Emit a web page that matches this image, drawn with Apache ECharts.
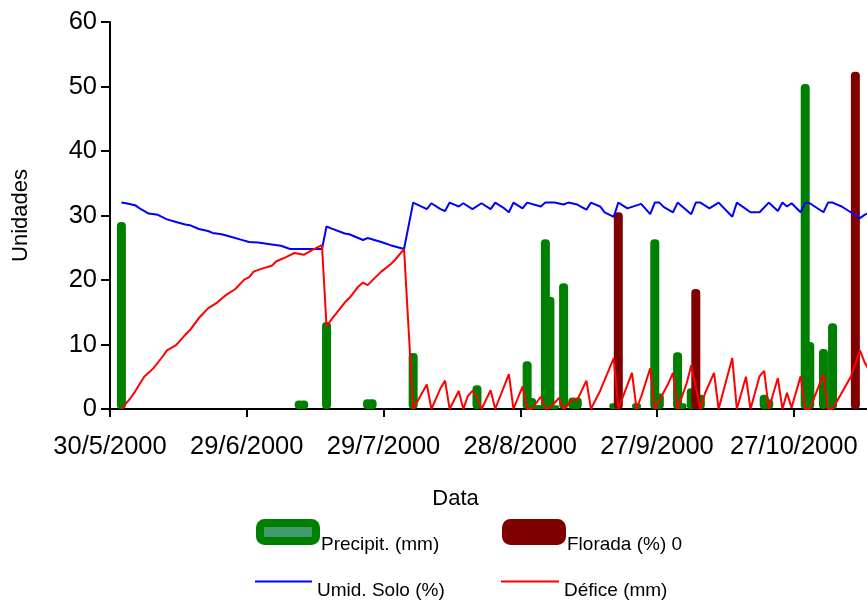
<!DOCTYPE html>
<html>
<head>
<meta charset="utf-8">
<script src="https://cdn.jsdelivr.net/npm/echarts@6/dist/echarts.min.js"></script>
<style>
  html, body { margin: 0; padding: 0; background: #ffffff; }
  #chart { width: 867px; height: 601px; }
</style>
</head>
<body>
<div id="chart"></div>
<script>
// Precipitação diária (mm)
const precipDates = [
  '2000-06-01', '2000-07-10', '2000-07-11', '2000-07-16', '2000-07-25', '2000-07-26',
  '2000-08-04', '2000-08-18', '2000-08-29', '2000-08-30', '2000-08-31', '2000-09-01',
  '2000-09-02', '2000-09-03', '2000-09-04', '2000-09-06', '2000-09-08', '2000-09-09',
  '2000-09-17', '2000-09-22', '2000-09-26', '2000-09-27', '2000-10-01', '2000-10-02',
  '2000-10-04', '2000-10-06', '2000-10-20', '2000-10-21', '2000-10-29', '2000-10-30',
  '2000-11-02', '2000-11-04'
];
const precipValues = [
  29.0, 1.3, 1.3, 13.5, 1.5, 1.5,
  8.7, 3.7, 7.4, 1.7, 0.6, 0.6,
  26.3, 17.4, 0.6, 19.5, 1.8, 1.8,
  0.9, 0.9, 26.3, 2.4, 8.8, 0.9,
  3.2, 2.2, 2.2, 1.5, 50.4, 10.4,
  9.3, 13.3
];

// Florada (%)
const floradaDates = ['2000-09-18', '2000-10-05', '2000-11-09'];
const floradaValues = [30.5, 18.6, 52.3];

// Umidade do solo (%)
const umidDates = [
  '2000-06-01', '2000-06-02', '2000-06-04', '2000-06-05', '2000-06-07', '2000-06-09',
  '2000-06-11', '2000-06-13', '2000-06-15', '2000-06-16', '2000-06-18', '2000-06-20',
  '2000-06-21', '2000-06-23', '2000-06-25', '2000-06-27', '2000-06-29', '2000-07-01',
  '2000-07-04', '2000-07-06', '2000-07-08', '2000-07-15', '2000-07-16', '2000-07-17',
  '2000-07-20', '2000-07-21', '2000-07-24', '2000-07-25', '2000-07-28', '2000-07-30',
  '2000-08-02', '2000-08-04', '2000-08-07', '2000-08-08', '2000-08-10', '2000-08-11',
  '2000-08-12', '2000-08-14', '2000-08-15', '2000-08-17', '2000-08-19', '2000-08-21',
  '2000-08-22', '2000-08-24', '2000-08-25', '2000-08-26', '2000-08-28', '2000-08-29',
  '2000-09-01', '2000-09-02', '2000-09-04', '2000-09-06', '2000-09-07', '2000-09-09',
  '2000-09-11', '2000-09-12', '2000-09-14', '2000-09-15', '2000-09-17', '2000-09-18',
  '2000-09-20', '2000-09-23', '2000-09-25', '2000-09-26', '2000-09-27', '2000-09-28',
  '2000-09-30', '2000-10-01', '2000-10-04', '2000-10-05', '2000-10-06', '2000-10-08',
  '2000-10-10', '2000-10-13', '2000-10-14', '2000-10-17', '2000-10-19', '2000-10-21',
  '2000-10-23', '2000-10-24', '2000-10-25', '2000-10-26', '2000-10-28', '2000-10-29',
  '2000-10-30', '2000-11-02', '2000-11-03', '2000-11-04', '2000-11-06', '2000-11-08',
  '2000-11-10', '2000-11-11', '2000-11-12'
];
const umidValues = [
  32.0, 31.9, 31.6, 31.1, 30.3, 30.1,
  29.4, 29.0, 28.6, 28.5, 27.9, 27.6,
  27.3, 27.1, 26.7, 26.3, 25.9, 25.8,
  25.5, 25.3, 24.8, 24.8, 28.3, 28.0,
  27.2, 27.1, 26.2, 26.5, 25.9, 25.4,
  24.8, 32.0, 31.0, 31.9, 31.0, 30.7,
  32.0, 31.4, 31.9, 31.0, 31.9, 31.0,
  32.0, 31.1, 30.5, 32.0, 31.1, 32.0,
  31.4, 32.0, 32.0, 31.7, 32.0, 31.7,
  30.9, 32.0, 31.4, 30.5, 29.8, 32.0,
  31.1, 31.8, 30.2, 32.0, 32.0, 31.3,
  30.5, 32.0, 30.2, 32.0, 32.0, 31.1,
  32.0, 29.8, 32.0, 30.5, 30.5, 32.0,
  30.7, 32.0, 31.4, 31.9, 30.5, 32.0,
  31.9, 30.5, 32.0, 32.0, 31.4, 30.5,
  29.6, 30.1, 30.4
];

// Déficit hídrico (mm)
const deficeDates = [
  '2000-06-01', '2000-06-03', '2000-06-04', '2000-06-06', '2000-06-08', '2000-06-10',
  '2000-06-11', '2000-06-13', '2000-06-15', '2000-06-16', '2000-06-18', '2000-06-20',
  '2000-06-22', '2000-06-24', '2000-06-26', '2000-06-28', '2000-06-29', '2000-06-30',
  '2000-07-02', '2000-07-04', '2000-07-05', '2000-07-07', '2000-07-09', '2000-07-11',
  '2000-07-13', '2000-07-15', '2000-07-16', '2000-07-17', '2000-07-20', '2000-07-21',
  '2000-07-23', '2000-07-24', '2000-07-25', '2000-07-28', '2000-07-30', '2000-07-31',
  '2000-08-02', '2000-08-04', '2000-08-07', '2000-08-08', '2000-08-10', '2000-08-11',
  '2000-08-12', '2000-08-14', '2000-08-15', '2000-08-16', '2000-08-17', '2000-08-18',
  '2000-08-19', '2000-08-21', '2000-08-22', '2000-08-25', '2000-08-26', '2000-08-28',
  '2000-08-29', '2000-08-30', '2000-09-01', '2000-09-02', '2000-09-03', '2000-09-05',
  '2000-09-06', '2000-09-08', '2000-09-09', '2000-09-11', '2000-09-12', '2000-09-14',
  '2000-09-17', '2000-09-18', '2000-09-21', '2000-09-22', '2000-09-23', '2000-09-25',
  '2000-09-26', '2000-09-29', '2000-09-30', '2000-10-01', '2000-10-03', '2000-10-04',
  '2000-10-06', '2000-10-07', '2000-10-09', '2000-10-10', '2000-10-13', '2000-10-14',
  '2000-10-16', '2000-10-17', '2000-10-19', '2000-10-20', '2000-10-21', '2000-10-23',
  '2000-10-24', '2000-10-25', '2000-10-26', '2000-10-28', '2000-10-29', '2000-10-30',
  '2000-11-02', '2000-11-03', '2000-11-04', '2000-11-08', '2000-11-10', '2000-11-11',
  '2000-11-12'
];
const deficeValues = [
  0, 1.7, 2.7, 5.0, 6.3, 8.1,
  9.1, 9.9, 11.5, 12.2, 14.1, 15.6,
  16.5, 17.7, 18.6, 20.1, 20.4, 21.3,
  21.8, 22.2, 22.9, 23.5, 24.2, 23.9,
  24.7, 25.4, 12.8, 13.8, 16.5, 17.2,
  19.0, 19.6, 19.2, 21.3, 22.4, 23.1,
  24.8, 0, 3.8, 0, 3.2, 4.4,
  0, 2.8, 0, 2.0, 2.8, 1.9,
  0, 2.9, 0, 5.4, 0, 3.5,
  0, 0, 1.9, 0, 0.2, 1.7,
  0, 1.5, 1.4, 4.4, 0, 2.8,
  7.9, 0, 5.6, 0, 1.9, 6.3,
  0, 4.0, 5.6, 0, 4.0, 6.8,
  0, 2.4, 5.6, 0, 7.9, 0,
  5.0, 0, 5.1, 5.9, 0, 4.8,
  0, 2.5, 0.2, 5.1, 0, 0,
  5.4, 0, 0, 5.0, 9.1, 7.3,
  6.0
];

// Axis ticks: every 30 days from 30/5/2000
const axisStart = '2000-05-30';
const axisDays = 170;
const tickStep = 30;
const yTicks = { min: 0, max: 60, step: 10 };

const DAY_MS = 86400000;
const [sy, sm, sd] = axisStart.split('-').map(Number);
const BASE = Date.UTC(sy, sm - 1, sd);

// day number since the axis origin, plotted at midday
function toDay(s) {
  const [y, m, d] = s.split('-').map(Number);
  return (Date.UTC(y, m - 1, d) - BASE) / DAY_MS + 0.5;
}
function pairs(dates, values) {
  return dates.map((s, i) => [toDay(s), values[i]]);
}
function dayLabel(v) {
  const t = new Date(BASE + v * DAY_MS);
  return t.getUTCDate() + '/' + (t.getUTCMonth() + 1) + '/' + t.getUTCFullYear();
}

const FONT = 'Liberation Sans, Arial, Helvetica, sans-serif';
const GREEN = '#008000';
const MAROON = '#800000';
const BLUE = '#0000ff';
const RED = '#ff0000';

const barStyle = (c) => ({ color: c, borderRadius: 4 });

// legend text sits a little below its key: an empty first line pushes it down
function legendEntry(opts, lineHeight) {
  return Object.assign({
    orient: 'horizontal',
    padding: 0,
    selectedMode: false,
    formatter: (name) => '\n' + name,
    textStyle: { fontFamily: FONT, fontSize: 19, color: '#000', lineHeight: lineHeight }
  }, opts);
}

const chart = echarts.init(document.getElementById('chart'), null, { renderer: 'canvas' });

chart.setOption({
  backgroundColor: '#ffffff',
  animation: false,
  textStyle: { fontFamily: FONT },
  grid: {
    left: 110, top: 22, bottom: 192, right: -18,
    containLabel: false, outerBoundsMode: 'none'
  },
  xAxis: {
    type: 'value',
    min: 0, max: axisDays, interval: tickStep,
    name: 'Data',
    nameLocation: 'middle',
    nameGap: 79,
    nameTextStyle: { fontFamily: FONT, fontSize: 22, color: '#000', padding: [0, 84, 0, 0] },
    axisLine: { show: true, onZero: false, lineStyle: { color: '#000', width: 2 } },
    axisTick: { show: true, length: 8, lineStyle: { color: '#000', width: 2 } },
    axisLabel: {
      fontFamily: FONT, fontSize: 25.5, color: '#000', margin: 25,
      showMaxLabel: false, formatter: dayLabel
    },
    splitLine: { show: false }
  },
  yAxis: {
    type: 'value',
    min: yTicks.min, max: yTicks.max, interval: yTicks.step,
    name: 'Unidades',
    nameLocation: 'middle',
    nameGap: 78,
    nameTextStyle: { fontFamily: FONT, fontSize: 22, color: '#000' },
    axisLine: { show: true, lineStyle: { color: '#000', width: 2 } },
    axisTick: { show: true, length: 9, lineStyle: { color: '#000', width: 2 } },
    axisLabel: { fontFamily: FONT, fontSize: 25.5, color: '#000', margin: 13 },
    splitLine: { show: false }
  },
  legend: [
    legendEntry({
      left: 256, top: 506, itemWidth: 56, itemHeight: 18, icon: 'roundRect',
      data: [{ name: 'Precipit. (mm)', itemStyle: { color: '#3f9a6c', borderColor: GREEN, borderWidth: 8 } }]
    }, 26),
    legendEntry({
      left: 502, top: 506, itemWidth: 56, itemHeight: 18, icon: 'roundRect',
      data: [{ name: 'Florada (%) 0', itemStyle: { color: MAROON, borderColor: MAROON, borderWidth: 8 } }]
    }, 26),
    legendEntry({
      left: 255, top: 563, itemWidth: 57, itemHeight: 2, icon: 'rect',
      data: [{ name: 'Umid. Solo (%)', itemStyle: { color: BLUE, borderWidth: 0 } }]
    }, 18),
    legendEntry({
      left: 501, top: 563, itemWidth: 58, itemHeight: 2, icon: 'rect',
      data: [{ name: 'Défice (mm)', itemStyle: { color: RED, borderWidth: 0 } }]
    }, 18)
  ],
  series: [
    {
      name: 'Precipit. (mm)', type: 'bar', barWidth: 9, barGap: '-100%',
      itemStyle: barStyle(GREEN),
      data: pairs(precipDates, precipValues)
    },
    {
      name: 'Florada (%) 0', type: 'bar', barWidth: 9, barGap: '-100%',
      itemStyle: barStyle(MAROON),
      data: pairs(floradaDates, floradaValues)
    },
    {
      name: 'Umid. Solo (%)', type: 'line', symbol: 'none', z: 3,
      lineStyle: { color: BLUE, width: 2 }, itemStyle: { color: BLUE },
      data: pairs(umidDates, umidValues)
    },
    {
      name: 'Défice (mm)', type: 'line', symbol: 'none', z: 4,
      lineStyle: { color: RED, width: 2 }, itemStyle: { color: RED },
      data: pairs(deficeDates, deficeValues)
    }
  ]
});
</script>
</body>
</html>
